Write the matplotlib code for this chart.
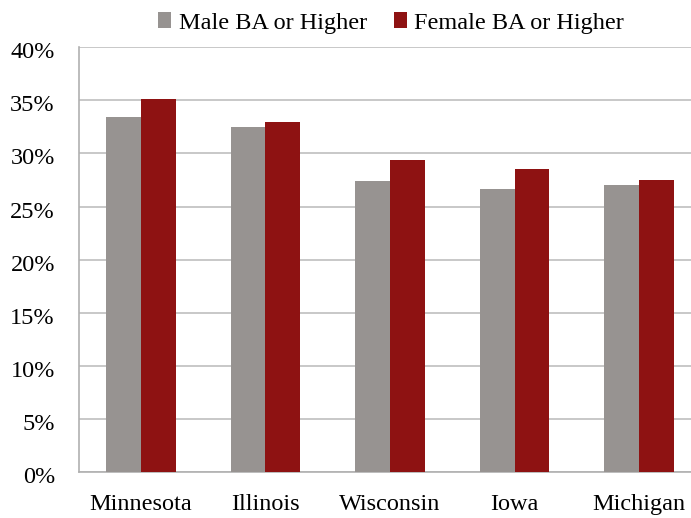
import matplotlib
matplotlib.use("Agg")
import matplotlib.pyplot as plt
import matplotlib.transforms as mtransforms
import numpy as np

categories = ["Minnesota", "Illinois", "Wisconsin", "Iowa", "Michigan"]
male = [33.4, 32.5, 27.4, 26.7, 27.0]
female = [35.1, 33.0, 29.4, 28.5, 27.5]
series_names = ["Male BA or Higher", "Female BA or Higher"]
yticks = [0, 5, 10, 15, 20, 25, 30, 35, 40]

plt.rcParams['font.family'] = ['Liberation Serif', 'DejaVu Serif']

fig = plt.figure(figsize=(6.91, 5.18), dpi=100)
W, H = 691, 518
left, right = 78.5, 701.5
top, bottom = 47.3, 472
ax = fig.add_axes([left / W, 1 - bottom / H, (right - left) / W, (bottom - top) / H])

x = np.arange(len(categories))
w = 0.28
gray = "#979391"
red = "#8E1212"
b1 = ax.bar(x - w / 2, male, w, color=gray, label=series_names[0], zorder=3)
b2 = ax.bar(x + w / 2, female, w, color=red, label=series_names[1], zorder=3)

ax.set_xlim(-0.5, len(categories) - 0.5)
ax.set_ylim(0, 40)
ax.set_yticks(yticks)
ax.set_yticklabels([f"{v}%" for v in yticks], fontsize=17.5)
ax.set_xticks(x)
ax.set_xticklabels(categories, fontsize=17.5)
ax.tick_params(axis='both', length=0)
ax.tick_params(axis='y', pad=17)
ax.tick_params(axis='x', pad=16)
offset = mtransforms.ScaledTranslation(0, -3 / 100, fig.dpi_scale_trans)
for lab in ax.get_yticklabels():
    lab.set_transform(lab.get_transform() + offset)
ax.yaxis.grid(True, color="#c4c4c4", linewidth=1.3, zorder=0)
ax.set_axisbelow(True)
for s in ["top", "right"]:
    ax.spines[s].set_visible(False)
for s in ["left", "bottom"]:
    ax.spines[s].set_color("#b0b0b0")
    ax.spines[s].set_linewidth(1.2)

leg = fig.legend(handles=[b1, b2], labels=series_names, loc="center",
                 bbox_to_anchor=(391 / W, 1 - 23 / H), ncol=2, frameon=False,
                 fontsize=17.5, handlelength=0.55, handleheight=0.6,
                 handletextpad=0.3, columnspacing=1.1)

fig.savefig("out.png", dpi=100)
